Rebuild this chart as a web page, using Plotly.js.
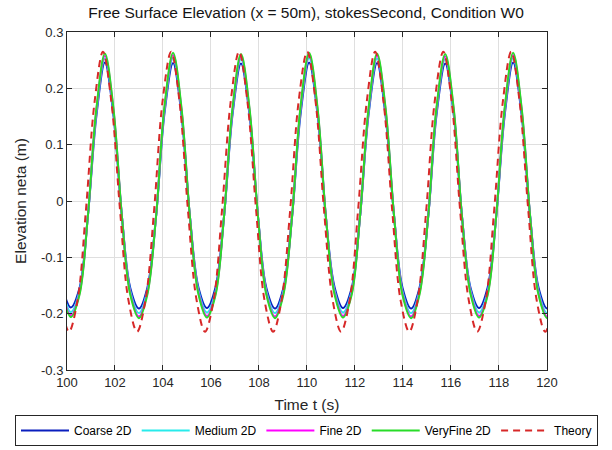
<!DOCTYPE html>
<html>
<head>
<meta charset="utf-8">
<script src="https://cdn.plot.ly/plotly-3.0.1.min.js"></script>
<style>html,body{margin:0;padding:0;background:#fff;}#chart{width:612px;height:450px;}</style>
</head>
<body>
<div id="chart"></div>
<script>
// Sample times (s)
const timeSim = [99.81, 100.16, 100.52, 100.87, 101.23, 101.58, 101.93, 102.29, 102.64, 103.00,
  103.35, 103.71, 104.06, 104.42, 104.77, 105.12, 105.48, 105.83, 106.19, 106.54,
  106.90, 107.25, 107.60, 107.96, 108.31, 108.67, 109.02, 109.38, 109.73, 110.09,
  110.44, 110.79, 111.15, 111.50, 111.86, 112.21, 112.57, 112.92, 113.27, 113.63,
  113.98, 114.34, 114.69, 115.05, 115.40, 115.76, 116.11, 116.46, 116.82, 117.17,
  117.53, 117.88, 118.24, 118.59, 118.94, 119.30, 119.65, 120.01, 120.36];
// Sample times (s) for the theoretical record
const timeTheory = [99.73, 100.08, 100.44, 100.79, 101.15, 101.50, 101.85, 102.21, 102.56, 102.92,
  103.27, 103.63, 103.98, 104.34, 104.69, 105.04, 105.40, 105.75, 106.11, 106.46,
  106.82, 107.17, 107.52, 107.88, 108.23, 108.59, 108.94, 109.30, 109.65, 110.01,
  110.36, 110.71, 111.07, 111.42, 111.78, 112.13, 112.49, 112.84, 113.19, 113.55,
  113.90, 114.26, 114.61, 114.97, 115.32, 115.68, 116.03, 116.38, 116.74, 117.09,
  117.45, 117.80, 118.16, 118.51, 118.86, 119.22, 119.57, 119.93, 120.28];

const coarse2D = [-0.153, -0.189, -0.155, -0.027, 0.153, 0.246, 0.154, -0.028,
  -0.155, -0.191, -0.154, -0.028, 0.155, 0.245, 0.153, -0.027,
  -0.154, -0.190, -0.153, -0.029, 0.154, 0.244, 0.155, -0.028,
  -0.155, -0.191, -0.154, -0.027, 0.153, 0.246, 0.154, -0.029,
  -0.153, -0.190, -0.155, -0.028, 0.155, 0.245, 0.153, -0.027,
  -0.154, -0.191, -0.154, -0.028, 0.154, 0.244, 0.155, -0.028,
  -0.155, -0.190, -0.153, -0.029, 0.153, 0.246, 0.154, -0.028,
  -0.154, -0.191, -0.155];

const medium2D = [-0.159, -0.197, -0.160, -0.027, 0.159, 0.253, 0.160, -0.028,
  -0.160, -0.199, -0.159, -0.028, 0.160, 0.254, 0.159, -0.027,
  -0.159, -0.198, -0.160, -0.029, 0.159, 0.252, 0.160, -0.028,
  -0.160, -0.199, -0.159, -0.027, 0.160, 0.254, 0.159, -0.029,
  -0.159, -0.198, -0.160, -0.028, 0.159, 0.253, 0.160, -0.027,
  -0.160, -0.199, -0.159, -0.028, 0.160, 0.252, 0.159, -0.028,
  -0.159, -0.198, -0.160, -0.029, 0.159, 0.254, 0.160, -0.028,
  -0.160, -0.199, -0.159];

const fine2D = [-0.163, -0.203, -0.164, -0.027, 0.163, 0.258, 0.164, -0.028,
  -0.164, -0.205, -0.163, -0.028, 0.164, 0.259, 0.163, -0.027,
  -0.163, -0.204, -0.164, -0.029, 0.163, 0.257, 0.164, -0.028,
  -0.164, -0.205, -0.163, -0.027, 0.164, 0.259, 0.163, -0.029,
  -0.163, -0.204, -0.164, -0.028, 0.163, 0.258, 0.164, -0.027,
  -0.164, -0.205, -0.163, -0.028, 0.164, 0.257, 0.163, -0.028,
  -0.163, -0.204, -0.164, -0.029, 0.163, 0.259, 0.164, -0.028,
  -0.164, -0.205, -0.163];

const veryFine2D = [-0.166, -0.206, -0.167, -0.027, 0.166, 0.262, 0.167, -0.028,
  -0.167, -0.208, -0.166, -0.028, 0.167, 0.263, 0.166, -0.027,
  -0.166, -0.207, -0.167, -0.029, 0.166, 0.261, 0.167, -0.028,
  -0.167, -0.208, -0.166, -0.027, 0.167, 0.263, 0.166, -0.029,
  -0.166, -0.207, -0.167, -0.028, 0.166, 0.262, 0.167, -0.027,
  -0.167, -0.208, -0.166, -0.028, 0.167, 0.261, 0.166, -0.028,
  -0.166, -0.207, -0.167, -0.029, 0.166, 0.263, 0.167, -0.028,
  -0.167, -0.208, -0.166];

const theory = [-0.176, -0.232, -0.176, -0.016, 0.176, 0.265, 0.176, -0.016,
  -0.176, -0.232, -0.176, -0.016, 0.176, 0.265, 0.176, -0.016,
  -0.176, -0.232, -0.176, -0.016, 0.176, 0.265, 0.176, -0.016,
  -0.176, -0.232, -0.176, -0.016, 0.176, 0.265, 0.176, -0.016,
  -0.176, -0.232, -0.176, -0.016, 0.176, 0.265, 0.176, -0.016,
  -0.176, -0.232, -0.176, -0.016, 0.176, 0.265, 0.176, -0.016,
  -0.176, -0.232, -0.176, -0.016, 0.176, 0.265, 0.176, -0.016,
  -0.176, -0.232, -0.176];

const seriesNames = ['Coarse 2D', 'Medium 2D', 'Fine 2D', 'VeryFine 2D', 'Theory'];
const xTickVals = [100, 102, 104, 106, 108, 110, 112, 114, 116, 118, 120];
const xTickText = ['100', '102', '104', '106', '108', '110', '112', '114', '116', '118', '120'];
const yTickVals = [-0.3, -0.2, -0.1, 0, 0.1, 0.2, 0.3];
const yTickText = ['-0.3', '-0.2', '-0.1', '0', '0.1', '0.2', '0.3'];

const FONT = 'Liberation Sans, Arial, Helvetica, sans-serif';
const lineStyle = (color, dash) => ({color: color, width: 2, shape: 'spline', smoothing: 1, dash: dash || 'solid'});

const traces = [
  {x: timeSim, y: coarse2D, name: seriesNames[0], mode: 'lines', line: lineStyle('rgb(10,30,190)')},
  {x: timeSim, y: medium2D, name: seriesNames[1], mode: 'lines', line: lineStyle('rgb(40,235,235)')},
  {x: timeSim, y: fine2D, name: seriesNames[2], mode: 'lines', line: lineStyle('rgb(255,0,255)')},
  {x: timeSim, y: veryFine2D, name: seriesNames[3], mode: 'lines', line: lineStyle('rgb(40,220,40)')},
  {x: timeTheory, y: theory, name: seriesNames[4], mode: 'lines', line: lineStyle('rgb(215,40,40)', '7px,5px')}
];

const axisCommon = {
  showline: true, mirror: 'ticks', linecolor: 'rgb(38,38,38)', linewidth: 1,
  ticks: 'inside', ticklen: 5, tickcolor: 'rgb(38,38,38)',
  showgrid: true, gridcolor: 'rgb(223,223,223)', gridwidth: 1,
  zeroline: false, tickfont: {family: FONT, size: 13, color: 'rgb(38,38,38)'}
};

const layout = {
  width: 612, height: 450,
  margin: {l: 8, r: 7, t: 32, b: 80, autoexpand: false},
  paper_bgcolor: '#fff', plot_bgcolor: '#fff',
  font: {family: FONT, color: 'rgb(38,38,38)'},
  title: {text: 'Free Surface Elevation (x = 50m), stokesSecond, Condition W0',
    font: {family: FONT, size: 15.5, color: 'rgb(20,20,20)'}, x: 0.5, xanchor: 'center', y: 0.973, yanchor: 'middle'},
  xaxis: Object.assign({}, axisCommon, {domain: [0.0988, 0.9028], range: [100, 120], tickvals: xTickVals, ticktext: xTickText,
    ticklabelstandoff: 0,
    title: {text: 'Time t (s)', font: {family: FONT, size: 15.5, color: 'rgb(38,38,38)'}, standoff: 10}}),
  yaxis: Object.assign({}, axisCommon, {range: [-0.3, 0.3], tickvals: yTickVals, ticktext: yTickText,
    title: {text: 'Elevation neta (m)', font: {family: FONT, size: 15.5, color: 'rgb(38,38,38)'}, standoff: 10}}),
  showlegend: true,
  legend: {orientation: 'h', x: 0.5, xanchor: 'center', y: -0.133, yanchor: 'top',
    bordercolor: 'rgb(38,38,38)', borderwidth: 1, bgcolor: '#fff',
    font: {family: FONT, size: 12, color: '#000'}, itemwidth: 48, tracegroupgap: 0}
};

Plotly.newPlot('chart', traces, layout, {displayModeBar: false, staticPlot: true});
</script>
</body>
</html>
